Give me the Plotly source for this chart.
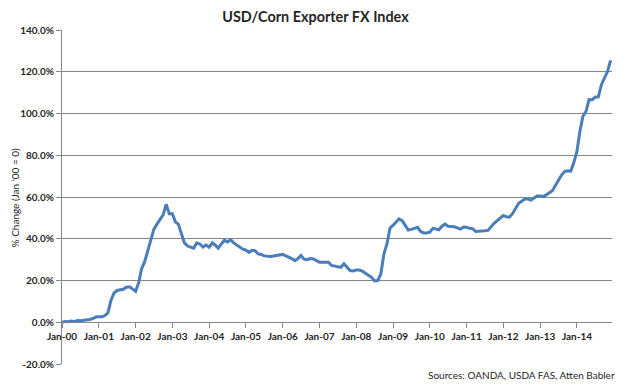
import plotly.graph_objects as go
import pandas as pd

# Monthly % change, Jan-2000 .. Dec-2014
values = [
    0.0, 0.4, 0.2, 0.6, 0.3, 0.8, 0.7, 0.8, 0.9, 1.3, 1.8, 2.5,
    2.6, 2.6, 3.2, 4.5, 10.5, 14.0, 15.2, 15.6, 15.8, 16.8, 17.0, 16.0,
    14.8, 19.0, 25.5, 29.0, 34.0, 38.5, 44.5, 47.0, 49.0, 51.5, 56.5, 52.0,
    52.0, 48.0, 47.0, 42.0, 38.0, 36.5, 36.0, 35.5, 38.0, 37.5, 36.0, 37.0,
    36.0, 38.0, 37.0, 35.5, 37.5, 39.3, 38.5, 39.5, 38.0, 37.0, 36.0, 35.0,
    34.5, 33.5, 34.5, 34.3, 32.8, 32.5, 31.8, 31.5, 31.5, 31.7, 32.0, 32.3,
    32.5, 31.8, 31.2, 30.5, 29.5, 30.5, 32.0, 30.2, 30.0, 30.5, 30.3, 29.5,
    28.8, 28.8, 28.8, 28.7, 27.2, 26.8, 26.5, 26.3, 28.0, 26.5, 24.8, 24.6,
    25.0, 25.0, 24.5, 23.5, 22.5, 21.5, 19.8, 20.0, 23.0, 32.5, 37.5, 45.0,
    46.5, 48.0, 49.5, 48.7, 46.5, 44.2, 44.5, 45.0, 45.5, 43.5, 42.8, 42.8,
    43.2, 45.0, 44.6, 44.3, 46.0, 47.0, 46.0, 46.0, 45.7, 45.2, 44.6, 45.6,
    45.5, 45.0, 44.8, 43.5, 43.5, 43.8, 43.8, 44.0, 46.0, 47.4, 48.7, 50.0,
    51.1, 50.5, 50.3, 52.0, 54.5, 57.0, 58.0, 59.0, 59.0, 58.5, 59.5, 60.5,
    60.5, 60.2, 61.0, 62.0, 63.0, 65.5, 68.2, 70.5, 72.2, 72.6, 72.4, 76.5,
    82.0, 92.0, 98.6, 101.0, 106.7, 106.6, 107.8, 108.0, 113.8, 117.0, 120.2, 125.4,
]
dates = pd.date_range("2000-01-01", periods=len(values), freq="MS")

x_tick_dates = pd.date_range("2000-01-01", "2014-01-01", freq="YS")
x_tick_labels = [d.strftime("Jan-%y") for d in x_tick_dates]
y_tick_vals = [-20, 0, 20, 40, 60, 80, 100, 120, 140]
y_tick_labels = [f"{v:.1f}%" for v in y_tick_vals]

title_text = "USD/Corn Exporter FX Index"
y_title = "% Change (Jan '00 = 0)"
source_text = "Sources: OANDA, USDA FAS, Atten Babler"

W, H = 628, 388
OFF = 8  # page body margin offset
L, T = 57 - OFF, 30 - OFF
R = W - (612 - OFF)
B = H - (364 - OFF)
pw, ph = W - L - R, H - T - B

font_family = "Lato, 'Open Sans', sans-serif"
grey = "#868686"
txt = "#262626"

fig = go.Figure()
fig.add_trace(go.Scatter(
    x=dates, y=values, mode="lines",
    line=dict(color="#4A7EBB", width=3),
    hoverinfo="skip", showlegend=False,
))

fig.update_layout(
    width=W, height=H,
    margin=dict(l=L, r=R, t=T, b=B, pad=0),
    paper_bgcolor="white", plot_bgcolor="white",
    font=dict(family=font_family, size=10, color=txt),
    title=dict(text=f"<b>{title_text}</b>", x=(315.5 - OFF) / W, xref="container", xanchor="center",
               y=1 - (16.5 - OFF) / H, yref="container", yanchor="middle",
               font=dict(size=14.4, color=txt, family=font_family)),
    xaxis=dict(
        type="date",
        range=["2000-01-01", "2014-12-15"],
        tickvals=list(x_tick_dates), ticktext=x_tick_labels,
        tickangle=0,
        showgrid=False, zeroline=False,
        showline=True, linecolor=grey, linewidth=1,
        ticks="outside", ticklen=5, tickcolor=grey,
        anchor="free", position=20 / 160,
        tickfont=dict(size=10, color=txt, weight="bold"),
    ),
    yaxis=dict(
        range=[-20, 140],
        tickvals=y_tick_vals, ticktext=y_tick_labels,
        showgrid=True, gridcolor=grey, gridwidth=1,
        zeroline=False,
        showline=True, linecolor=grey, linewidth=1,
        ticks="outside", ticklen=5, tickcolor=grey,
        tickfont=dict(size=10, color=txt, weight="bold"),
    ),
    annotations=[
        dict(text=y_title, xref="paper", yref="paper",
             x=(10 - OFF - L) / pw, y=0.5, textangle=-90,
             xanchor="center", yanchor="middle", showarrow=False,
             font=dict(size=10, color=txt)),
        dict(text=source_text, xref="paper", yref="paper",
             x=(617 - OFF - L) / pw, y=(H - B - (375 - OFF)) / ph,
             xanchor="right", yanchor="middle", showarrow=False,
             font=dict(size=10, color=txt)),
    ],
)

fig.write_html("out.html")
